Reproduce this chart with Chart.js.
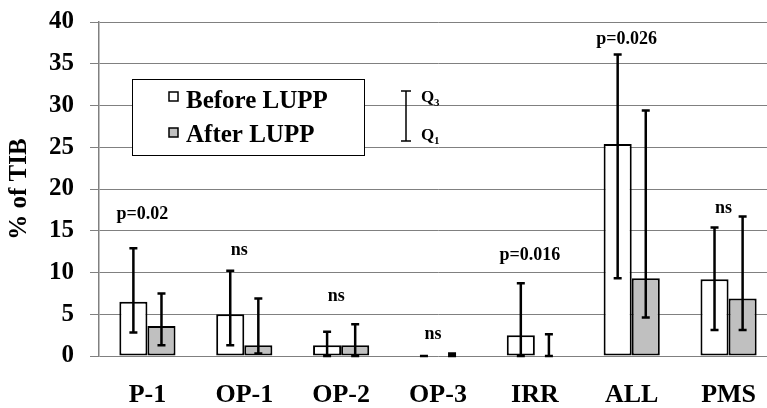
<!DOCTYPE html>
<html><head><meta charset="utf-8">
<script src="https://cdn.jsdelivr.net/npm/chart.js@4/dist/chart.umd.min.js"></script>
<style>html,body{margin:0;padding:0;background:#fff;overflow:hidden;}#wrap{width:767px;height:408px;overflow:hidden;}canvas{display:block;}</style>
</head><body><div id="wrap"><canvas id="c" width="777" height="408"></canvas></div>
<script>
const categories = ['P-1','OP-1','OP-2','OP-3','IRR','ALL','PMS'];
const beforeMedian = [6.5, 5.0, 1.3, 0, 2.5, 25.4, 9.2];
const afterMedian  = [3.6, 1.3, 1.3, 0, 0, 9.3, 6.9];
const beforeQ1 = [2.8, 1.3, 0, 0, 0, 9.3, 3.1];
const beforeQ3 = [12.9, 10.2, 2.9, 0, 8.7, 36.1, 15.4];
const afterQ1  = [1.3, 0.3, 0, 0, 0, 4.6, 3.1];
const afterQ3  = [7.5, 6.9, 3.8, 0.3, 2.6, 29.4, 16.7];
const pLabels  = ['p=0.02','ns','ns','ns','p=0.016','p=0.026','ns'];
const pLabelAt = [17.0, 12.6, 7.1, 2.6, 12.0, 37.9, 17.7];
const yTicks = [0,5,10,15,20,25,30,35,40];

const SERIF = '"Liberation Serif","Times New Roman",serif';

const errorBars = {
  id: 'errorBars',
  afterDatasetsDraw(chart) {
    const ctx = chart.ctx, y = chart.scales.y;
    const qs = [[beforeQ1, beforeQ3], [afterQ1, afterQ3]];
    ctx.save();
    ctx.strokeStyle = '#000';
    ctx.lineWidth = 2.5;
    qs.forEach((q, di) => {
      chart.getDatasetMeta(di).data.forEach((el, j) => {
        const x = el.x, y1 = y.getPixelForValue(q[0][j]), y3 = y.getPixelForValue(q[1][j]);
        ctx.beginPath();
        ctx.moveTo(x, y1); ctx.lineTo(x, y3);
        ctx.moveTo(x - 4, y3); ctx.lineTo(x + 4, y3);
        ctx.moveTo(x - 4, y1); ctx.lineTo(x + 4, y1);
        ctx.stroke();
      });
    });
    ctx.fillStyle = '#000';
    ctx.font = 'bold 18px ' + SERIF;
    ctx.textAlign = 'center';
    ctx.textBaseline = 'middle';
    pLabels.forEach((t, j) => {
      ctx.fillText(t, chart.scales.x.getPixelForValue(j) - 5, y.getPixelForValue(pLabelAt[j]));
    });
    ctx.restore();
  }
};

const legendBox = {
  id: 'legendBox',
  afterDraw(chart) {
    const ctx = chart.ctx;
    ctx.save();
    ctx.fillStyle = '#fff';
    ctx.fillRect(132, 79, 233, 77);
    ctx.strokeStyle = '#000';
    ctx.lineWidth = 1;
    ctx.strokeRect(132.5, 79.5, 232, 76);
    ctx.lineWidth = 1.5;
    ctx.fillStyle = '#fff';
    ctx.fillRect(169, 92, 9, 9); ctx.strokeRect(169, 92, 9, 9);
    ctx.fillStyle = '#c0c0c0';
    ctx.fillRect(169, 128, 9, 9); ctx.strokeRect(169, 128, 9, 9);
    ctx.fillStyle = '#000';
    ctx.font = 'bold 25px ' + SERIF;
    ctx.textBaseline = 'alphabetic';
    ctx.textAlign = 'left';
    ctx.fillText('Before LUPP', 186, 108);
    ctx.fillText('After LUPP', 186, 142);
    ctx.lineWidth = 1.5;
    ctx.beginPath();
    ctx.moveTo(406, 91); ctx.lineTo(406, 141);
    ctx.moveTo(401, 91); ctx.lineTo(411, 91);
    ctx.moveTo(401, 141); ctx.lineTo(411, 141);
    ctx.stroke();
    ctx.font = 'bold 17px ' + SERIF;
    ctx.fillText('Q', 421, 102);
    ctx.fillText('Q', 421, 140);
    ctx.font = 'bold 11px ' + SERIF;
    ctx.fillText('3', 434, 106);
    ctx.fillText('1', 434, 144);
    ctx.restore();
  }
};

new Chart(document.getElementById('c'), {
  type: 'bar',
  data: {
    labels: categories,
    datasets: [
      { label: 'Before LUPP', data: beforeMedian, backgroundColor: '#ffffff', borderColor: '#000', borderWidth: 2, borderSkipped: false },
      { label: 'After LUPP', data: afterMedian, backgroundColor: '#c0c0c0', borderColor: '#000', borderWidth: 2, borderSkipped: false }
    ]
  },
  options: {
    responsive: false,
    animation: false,
    devicePixelRatio: 1,
    layout: { padding: { top: 22, right: 0, left: 0, bottom: 0 } },
    plugins: { legend: { display: false }, tooltip: { enabled: false } },
    datasets: { bar: { categoryPercentage: 0.58, barPercentage: 1.0 } },
    scales: {
      x: {
        grid: { display: false, drawTicks: false },
        border: { display: false },
        ticks: { color: '#000', font: { family: SERIF, size: 26, weight: 'bold' }, padding: 24 },
        afterFit(s) { s.height = 52; s.paddingLeft = 0; s.paddingRight = 0; }
      },
      y: {
        min: 0, max: 40,
        afterBuildTicks(s) { s.ticks = yTicks.map(v => ({ value: v })); },
        grid: { color: '#808080', lineWidth: 1, tickLength: 9, drawTicks: true },
        border: { display: true, color: '#808080', width: 1.5 },
        ticks: { color: '#000', font: { family: SERIF, size: 25, weight: 'bold' }, padding: 16 },
        title: { display: true, text: '% of TIB', color: '#000', font: { family: SERIF, size: 25, weight: 'bold' }, padding: { top: 5, bottom: 0 } },
        afterFit(s) { s.width = 99; s.paddingTop = 0; s.paddingBottom = 0; }
      }
    }
  },
  plugins: [errorBars, legendBox]
});
</script>
</body></html>
